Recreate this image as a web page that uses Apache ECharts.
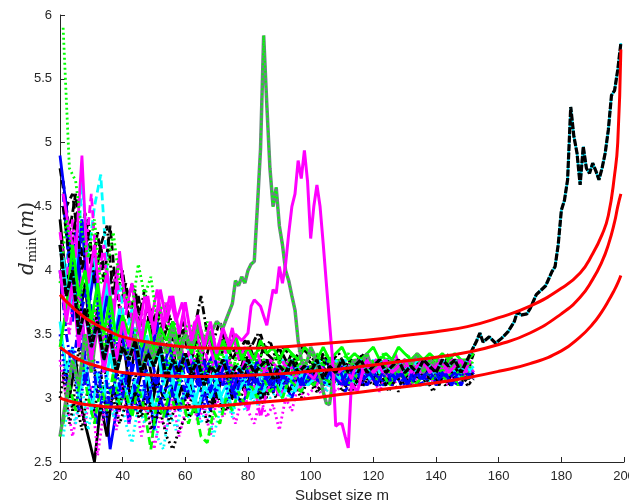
<!DOCTYPE html>
<html>
<head>
<meta charset="utf-8">
<script src="https://cdn.jsdelivr.net/npm/echarts@6/dist/echarts.min.js"></script>
<style>
  html, body { margin: 0; padding: 0; background: #fff; }
  #chart { width: 629px; height: 501px; }
</style>
</head>
<body>
<div id="chart"></div>
<script>
// subset sizes (even / odd steps) for the bundle of trajectories
const evenM = [];
for (let m = 20; m <= 152; m += 2) evenM.push(m);
const oddM = [];
for (let m = 21; m <= 151; m += 2) oddM.push(m);

// bundle trajectories, values
const blackDashed = [4.8,4.5,4.6,4.2,4.45,4.0,4.3,3.9,4.35,3.8, 4.0,3.6,3.85,3.5,3.75,3.45,3.7,3.4,3.6,3.35, 3.55,3.3,3.5,3.25,3.45,3.3,3.5,3.3,3.4,3.25, 3.45,3.3,3.5,3.35,3.3,3.4,3.25,3.35,3.3,3.4, 3.3,3.2,3.35,3.25,3.3,3.2,3.3,3.25,3.35,3.2, 3.3,3.2,3.25,3.3,3.15,3.3,3.2,3.3,3.25,3.2, 3.3,3.2,3.35,3.25,3.3,3.2,3.35];
const greenDotted = [5.9,4.8,4.7,4.3,4.1,4.4,3.9,4.0,4.3,3.9, 3.8,3.7,4.05,3.8,3.95,3.6,3.75,3.5,3.6,3.4, 3.6,3.5,3.3,3.6,3.4,3.3,3.5,3.2,3.4,3.3, 3.2,3.4,3.3,3.2,3.35,3.2,3.3,3.15,3.3,3.2, 3.3,3.2,3.35,3.25,3.3,3.2,3.3,3.25,3.2,3.3, 3.25,3.35,3.2,3.3,3.25,3.35,3.2,3.3,3.25,3.3, 3.2,3.3,3.25,3.2,3.3,3.25];
const magentaSolid = [4.6,4.3,4.1,4.9,3.9,4.2,3.7,4.0,3.6,4.15, 3.7,3.9,3.5,3.8,3.6,3.85,3.55,3.8,3.6,3.75, 3.4,3.6,3.35,3.5,3.3,3.45,3.35,3.55,3.3,3.4, 3.3,3.35,3.2,3.3,3.25,3.2,3.3,3.15,3.25,3.2, 3.15,3.25,3.2,3.3,3.2,3.25,3.15,3.3,3.2,3.25, 3.3,3.2,3.25,3.35,3.2,3.3,3.25,3.2,3.3,3.25, 3.3,3.2,3.3,3.25,3.2,3.3];
const cyanDashed = [3.9,4.2,3.8,4.7,4.1,4.5,4.75,4.0,3.7,3.9, 3.5,3.7,3.4,3.6,3.3,3.5,3.2,3.45,3.3,3.2, 3.4,3.2,3.35,3.1,3.3,3.2,3.35,3.1,3.25,3.15, 3.3,3.2,3.1,3.25,3.15,3.3,3.2,3.15,3.25,3.2, 3.2,3.3,3.15,3.25,3.2,3.3,3.2,3.25,3.15,3.2, 3.25,3.2,3.3,3.15,3.25,3.2,3.3,3.2,3.25,3.15, 3.25,3.2,3.3,3.2,3.15,3.25];
const blueSolid = [4.9,4.5,3.6,4.1,3.3,3.0,2.8,3.1,2.6,2.9, 3.2,2.8,3.1,2.9,3.2,2.75,3.0,2.85,3.15,2.9, 3.0,3.1,2.85,3.05,2.9,3.1,2.95,3.0,3.05,2.95, 3.05,3.15,3.0,3.1,3.05,3.2,3.1,3.0,3.15,3.1, 3.15,3.2,3.1,3.2,3.15,3.25,3.1,3.2,3.15,3.25, 3.2,3.15,3.1,3.25,3.2,3.15,3.25,3.2,3.15,3.25, 3.2,3.15,3.25,3.2,3.2,3.25,3.2];
const blackSolid = [3.4,3.0,3.3,2.9,2.7,2.5,2.95,2.7,3.1,2.9, 3.2,2.95,3.1,3.3,2.9,3.15,3.0,3.2,2.95,3.1, 3.0,3.2,3.05,3.15,2.95,3.1,3.2,3.0,3.15,3.05, 3.2,3.1,3.0,3.15,3.1,3.25,3.05,3.15,3.1,3.2, 3.1,3.2,3.15,3.1,3.2,3.15,3.25,3.1,3.2,3.15, 3.2,3.1,3.25,3.15,3.2,3.1,3.2,3.25,3.15,3.2, 3.1,3.25,3.2,3.15,3.2,3.15];
const magentaDotted = [3.3,3.0,2.7,2.95,2.8,3.1,2.55,2.9,3.0,2.75, 3.1,2.8,3.0,2.7,2.95,2.6,2.85,2.75,3.0,2.7, 2.9,3.05,2.8,2.95,2.7,3.0,2.85,2.95,2.8,3.0, 2.9,2.8,3.0,2.85,2.95,2.75,3.0,2.9,3.1,3.0, 3.05,3.1,3.0,3.15,3.05,3.1,3.15,3.05,3.2,3.1, 3.15,3.05,3.2,3.1,3.15,3.2,3.1,3.15,3.2,3.1, 3.2,3.15,3.1,3.2,3.15,3.2,3.15];
const cyanDotted = [2.7,3.0,2.8,3.1,2.75,3.0,2.9,3.2,2.85,3.05, 2.8,2.65,2.95,2.8,3.0,2.7,2.6,2.9,2.75,2.95, 2.85,3.0,2.8,2.95,2.7,2.9,3.0,2.85,3.05,2.9, 3.0,2.95,3.1,3.0,3.05,3.15,3.0,3.1,3.05,3.15, 3.1,3.2,3.05,3.15,3.1,3.2,3.15,3.1,3.2,3.15, 3.2,3.1,3.25,3.15,3.2,3.15,3.25,3.2,3.1,3.2, 3.15,3.25,3.2,3.15,3.2,3.25];
const greenSolid = [3.4,3.7,4.2,3.8,4.0,3.6,3.9,3.5,3.8,3.45, 3.65,3.5,3.7,3.4,3.6,3.35,3.55,3.45,3.6,3.4, 3.5,3.35,3.55,3.4,3.5,3.3,3.45,3.35,3.5,3.3, 3.4,3.3,3.45,3.35,3.4,3.3,3.4,3.35,3.3,3.4, 3.35,3.3,3.4,3.3,3.35,3.4,3.3,3.35,3.3,3.35, 3.4,3.3,3.35,3.3,3.4,3.35,3.3,3.35,3.3,3.35, 3.3,3.35,3.3,3.35,3.3,3.3,3.35];
const blueDashed = [4.6,4.0,4.3,3.7,3.9,3.5,3.8,3.4,3.6,3.3, 3.5,3.2,3.45,3.15,3.35,3.1,3.3,3.2,3.1,3.25, 3.05,3.2,3.1,3.25,3.0,3.15,3.1,3.2,3.05,3.15, 3.2,3.1,3.25,3.15,3.2,3.05,3.2,3.1,3.15,3.2, 3.1,3.2,3.15,3.1,3.2,3.05,3.15,3.2,3.1,3.15, 3.2,3.1,3.15,3.2,3.1,3.2,3.15,3.1,3.2,3.15, 3.2,3.15,3.1,3.2,3.15,3.2];
const blackDotted = [3.0,3.3,2.9,3.4,3.1,3.5,3.0,3.3,2.9,3.2, 3.1,2.9,3.2,2.85,3.0,2.8,2.9,2.7,2.6,2.75, 2.85,3.0,2.9,3.1,2.95,3.05,2.9,3.1,3.0,3.15, 3.05,3.2,3.1,3.0,3.15,3.05,3.2,3.1,3.05,3.15, 3.1,3.05,3.15,3.1,3.2,3.05,3.15,3.1,3.2,3.15, 3.1,3.2,3.1,3.15,3.05,3.2,3.1,3.15,3.2,3.1, 3.15,3.2,3.1,3.15,3.2,3.1,3.15];
const magentaDashDot = [3.8,3.5,4.0,3.6,3.3,3.7,3.4,3.6,3.3,3.5, 3.3,3.45,3.2,3.4,3.25,3.5,3.3,3.2,3.4,3.25, 3.35,3.2,3.3,3.15,3.35,3.2,3.3,3.25,3.15,3.3, 3.2,3.3,3.15,3.25,3.2,3.3,3.15,3.25,3.2,3.15, 3.25,3.2,3.3,3.15,3.25,3.2,3.3,3.25,3.2,3.25, 3.3,3.2,3.25,3.3,3.2,3.25,3.3,3.2,3.25,3.2, 3.3,3.25,3.2,3.3,3.25,3.2];
const cyanSolid = [3.6,3.2,3.4,3.0,3.3,2.9,3.2,3.0,3.35,3.05, 3.2,2.95,3.15,3.0,3.2,2.9,3.1,3.0,3.15,2.95, 3.05,3.15,2.9,3.1,3.0,3.15,2.95,3.1,3.05,3.15, 3.1,3.0,3.2,3.1,3.15,3.05,3.2,3.15,3.25,3.15, 3.2,3.25,3.15,3.2,3.3,3.2,3.25,3.15,3.25,3.2, 3.3,3.2,3.25,3.3,3.2,3.25,3.2,3.3,3.25,3.2, 3.25,3.3,3.2,3.25,3.3,3.2,3.25];
const greenDashed = [2.8,3.1,2.9,3.3,3.0,2.8,3.1,2.9,3.2,2.95, 3.05,2.85,3.1,2.9,2.6,3.0,2.85,3.05,2.9,3.0, 2.8,2.95,2.7,2.65,2.9,2.8,3.0,2.9,3.05,2.95, 3.1,3.0,3.15,3.05,3.1,3.0,3.15,3.1,3.05,3.15, 3.1,3.2,3.15,3.1,3.2,3.15,3.1,3.2,3.15,3.2, 3.15,3.2,3.1,3.2,3.15,3.2,3.1,3.15,3.2,3.15, 3.2,3.15,3.2,3.1,3.2,3.15];
const blueDotted = [3.5,3.1,3.4,2.9,3.2,3.0,3.3,2.85,3.1,3.0, 3.2,3.05,2.9,3.1,3.0,3.2,2.95,3.1,3.05,2.9, 3.1,3.0,3.15,2.95,3.1,3.05,3.2,3.0,3.1,3.15, 3.05,3.15,3.1,3.2,3.05,3.15,3.1,3.2,3.15,3.1, 3.2,3.15,3.1,3.2,3.15,3.25,3.1,3.2,3.15,3.2, 3.15,3.1,3.2,3.15,3.2,3.1,3.15,3.2,3.1,3.2, 3.15,3.2,3.15,3.1,3.2,3.15,3.2];
const blackDashDot = [4.5,4.1,4.4,4.0,4.3,3.9,4.2,4.35,3.8,4.1, 3.7,3.9,3.6,3.85,3.5,3.7,3.45,3.65,3.4,3.6, 3.45,3.55,3.8,3.5,3.45,3.6,3.4,3.5,3.35,3.45, 3.4,3.5,3.35,3.45,3.3,3.4,3.35,3.3,3.4,3.35, 3.3,3.35,3.25,3.3,3.35,3.25,3.3,3.2,3.3,3.25, 3.3,3.2,3.3,3.25,3.3,3.2,3.3,3.25,3.2,3.3, 3.25,3.3,3.2,3.25,3.3,3.25];
const blackDashed2 = [4.7,4.3,4.6,4.1,4.4,3.9,4.2,3.8,4.0,3.7, 3.9,3.6,3.8,3.5,3.7,3.45,3.6,3.5,3.4,3.55, 3.35,3.5,3.3,3.45,3.35,3.3,3.45,3.3,3.4,3.3, 3.35,3.25,3.4,3.3,3.2,3.35,3.25,3.3,3.2,3.3, 3.25,3.3,3.2,3.3,3.25,3.2,3.3,3.25,3.35,3.2, 3.3,3.25,3.2,3.3,3.25,3.3,3.2,3.25,3.3,3.2, 3.3,3.25,3.2,3.3,3.25,3.3];
const blackSolid2 = [4.4,3.9,4.1,3.6,3.9,3.4,3.7,3.3,3.6,3.2, 3.5,3.1,3.4,3.2,3.35,3.05,3.3,3.15,3.4,3.1, 3.3,3.15,3.35,3.1,3.25,3.05,3.3,3.15,3.2,3.1, 3.25,3.15,3.3,3.2,3.1,3.25,3.15,3.3,3.2,3.15, 3.25,3.15,3.2,3.1,3.25,3.2,3.15,3.25,3.1,3.2, 3.15,3.25,3.2,3.1,3.2,3.25,3.15,3.2,3.25,3.15, 3.2,3.25,3.15,3.2,3.25,3.15,3.2];
const blueSolid2 = [4.5,4.2,3.8,4.4,3.7,4.0,3.5,3.8,3.4,3.65, 3.3,3.55,3.2,3.45,3.3,3.6,3.25,3.4,3.15,3.35, 3.2,3.3,3.1,3.25,3.35,3.15,3.3,3.05,3.2,3.25, 3.15,3.3,3.2,3.1,3.25,3.15,3.3,3.2,3.1,3.25, 3.15,3.2,3.3,3.15,3.25,3.1,3.2,3.25,3.15,3.2, 3.1,3.2,3.25,3.15,3.2,3.1,3.25,3.15,3.2,3.25, 3.15,3.2,3.1,3.2,3.25,3.15];
const magentaDashed = [4.3,3.9,4.4,3.8,4.1,4.6,3.9,4.2,3.6,4.0, 3.5,3.8,3.4,3.7,3.3,3.6,3.4,3.75,3.3,3.5, 3.25,3.45,3.15,3.4,3.2,3.35,3.1,3.3,3.0,3.2, 2.9,3.1,2.85,3.05,3.15,3.0,3.1,3.2,3.05,3.15, 3.2,3.1,3.25,3.15,3.2,3.1,3.25,3.2,3.15,3.25, 3.2,3.3,3.15,3.25,3.2,3.3,3.15,3.25,3.2,3.3, 3.2,3.25,3.3,3.2,3.25,3.3,3.2];
const cyanSolid2 = [4.1,3.7,4.0,4.4,3.8,4.1,3.6,3.9,3.45,3.7, 3.3,3.6,3.2,3.5,3.25,3.4,3.1,3.3,3.0,3.2, 3.1,2.95,3.15,3.05,3.2,3.0,3.1,2.9,3.05,3.15, 3.0,3.1,3.05,3.2,3.1,3.0,3.15,3.05,3.2,3.1, 3.15,3.2,3.1,3.25,3.15,3.2,3.1,3.25,3.2,3.15, 3.25,3.2,3.3,3.15,3.25,3.2,3.3,3.2,3.25,3.2, 3.3,3.2,3.25,3.15,3.25,3.2];
const greenDotted2 = [3.9,4.4,4.1,3.7,4.0,3.5,3.8,3.4,3.7,3.3, 3.6,3.3,3.55,3.2,3.45,3.3,3.5,3.2,3.4,3.1, 3.35,3.2,3.4,3.15,3.3,3.2,3.35,3.1,3.3,3.2, 3.25,3.35,3.2,3.3,3.15,3.3,3.2,3.35,3.25,3.3, 3.2,3.35,3.25,3.3,3.2,3.3,3.35,3.25,3.3,3.2, 3.3,3.25,3.35,3.2,3.3,3.25,3.3,3.2,3.3,3.25, 3.3,3.2,3.3,3.25,3.3,3.2,3.3];
const blackDotted2 = [3.2,2.8,3.0,2.75,3.1,2.9,3.2,2.85,3.0,2.8, 2.95,3.1,2.85,3.0,2.75,2.9,3.05,2.8,2.95,3.1, 2.85,2.9,3.0,2.8,2.95,3.05,2.9,3.0,2.95,3.1, 3.0,3.05,2.95,3.1,3.0,3.15,3.05,3.1,3.0,3.15, 3.1,3.05,3.15,3.1,3.2,3.1,3.05,3.15,3.1,3.2, 3.1,3.15,3.05,3.2,3.1,3.15,3.2,3.1,3.15,3.05, 3.15,3.1,3.2,3.1,3.15,3.1];
const blueDashDot = [4.0,3.5,3.2,3.6,3.1,3.4,3.0,3.3,2.9,3.2, 3.0,3.3,3.05,3.25,2.95,3.15,3.05,3.3,3.0,3.2, 3.05,3.25,3.1,3.3,3.05,3.2,3.1,3.25,3.0,3.2, 3.1,3.25,3.05,3.2,3.1,3.25,3.15,3.1,3.2,3.1, 3.2,3.15,3.1,3.2,3.15,3.1,3.25,3.15,3.2,3.1, 3.2,3.15,3.25,3.1,3.2,3.15,3.1,3.2,3.15,3.25, 3.1,3.2,3.15,3.2,3.1,3.2,3.15];

// trajectory with the tall peak near m = 85
const peakM = [20,22,24,26,28,30,32,34,36,38,40,42,44,46,48,50,52,54,56,58,60,62,64,66,68,70,72, 75,76,77,78,79,80,81,82,83,84,85,86,87,88,89,90,91,92,93,94,95,96,97,98,99,100,101,102,103,104,105,106,107,108, 110,112,114,116,118,120,122,124,126,128,130,132,134,136,138,140,142,144,146,148,150];
const peakD = [2.7,3.0,3.3,3.1,3.5,3.2,3.6,3.3,3.5,3.2,3.4,3.3,3.5,3.2,3.45,3.3,3.5,3.35,3.55,3.3,3.5,3.4,3.6,3.45,3.5,3.6,3.55, 3.74,3.92,3.88,3.95,3.9,4.0,4.05,4.07,4.5,4.95,5.84,5.3,4.8,4.5,4.65,4.35,4.2,4.0,3.92,3.8,3.69,3.45,3.3,3.25,3.3,3.4,3.35,3.25,3.17,3.05,2.96,2.95,3.12,3.25, 3.3,3.2,3.3,3.25,3.35,3.2,3.3,3.25,3.3,3.2,3.3,3.25,3.35,3.2,3.3,3.25,3.3,3.2,3.3,3.25,3.3];

// magenta trajectory with the second peak near m = 98
const humpM = [20,22,24,26,28,30,32,34,36,38,40,42,44,46,48,50,52,54,56,58,60,62,64,66,68,70,72,74,76,78, 80,81,82,84,86,88,89,90,91,92,93,94,95,96,97,98,99,100,101,102,103,104,105,106,107,108,109,110,111,112,113,114,115,116,117, 118,120,122,124,126,128,130,132,134,136,138,140,142,144,146,148,150];
const humpD = [4.0,3.6,3.9,3.4,3.7,3.3,3.6,3.2,3.5,3.3,3.6,3.4,3.7,3.45,3.8,3.5,3.85,3.6,3.8,3.5,3.75,3.45,3.65,3.4,3.6,3.35,3.55,3.4,3.5,3.45, 3.51,3.72,3.77,3.72,3.57,3.85,3.82,4.03,3.9,4.05,4.29,4.5,4.6,4.86,4.72,4.94,4.7,4.25,4.5,4.67,4.5,4.21,3.9,3.6,3.3,2.78,2.8,2.8,2.7,2.61,3.12,3.08,3.06,3.15,3.25, 3.3,3.2,3.25,3.3,3.2,3.25,3.3,3.2,3.25,3.3,3.2,3.25,3.3,3.2,3.25,3.3,3.2];

// last trajectory that runs up to m = 199
const lastM = [20,22,24,26,28,30,32,34,36,38,40,42,44,46,48,50,52,54,56,58,60,62,64,66,68,70,72,74,76,78,80,82,84,86,88,90,92,94,96,98,100,102,104,106,108,110,112,114,116,118,120,122,124,126,128,130,132,134,136,138,140,142,144,146,148,150, 152,153,154,155,157,159,161,163,165,166,167,169,170,172,175,177,178,179,180,181,182,183,184,185,186,187,188,189,190,191,192,193,194,195,196,197,198,199];
const lastD = [4.2,3.8,4.0,3.5,3.7,3.4,3.6,3.3,3.5,3.2, 3.4,3.3,3.45,3.2,3.35,3.25,3.4,3.15,3.3,3.2, 3.35,3.2,3.3,3.1,3.25,3.2,3.3,3.15,3.25,3.2, 3.3,3.2,3.25,3.3,3.15,3.25,3.2,3.3,3.2,3.25, 3.2,3.3,3.15,3.25,3.2,3.3,3.2,3.25,3.3,3.2, 3.25,3.3,3.2,3.25,3.3,3.2,3.25,3.2,3.3,3.25, 3.2,3.3,3.25,3.3,3.2,3.3, 3.4,3.45,3.51,3.44,3.48,3.43,3.47,3.52,3.6,3.68,3.65,3.66,3.7,3.81,3.88,3.99,4.03,4.2,4.47,4.55,4.71,5.28,5.05,4.92,4.67,4.97,4.8,4.76,4.84,4.78,4.71,4.8,4.92,5.1,5.37,5.41,5.57,5.78];

// envelope curves
const envM = [20,24,28,32,36,40,50,60,70,80,90,100,110,120,130,140,150,160,170,180,186,190,193,195,197,198,199];
const envUpper = [3.81,3.71,3.63,3.57,3.52,3.48,3.43,3.40,3.39,3.39,3.40,3.42,3.44,3.46,3.49,3.52,3.56,3.63,3.72,3.86,3.98,4.13,4.28,4.43,4.75,5.0,5.73];
const envMiddle = [3.40,3.33,3.28,3.25,3.22,3.20,3.18,3.17,3.17,3.18,3.19,3.21,3.23,3.26,3.29,3.32,3.36,3.42,3.51,3.66,3.79,3.93,4.07,4.2,4.38,4.5,4.6];
const envLower = [3.00,2.97,2.95,2.94,2.93,2.93,2.92,2.93,2.94,2.96,2.98,3.00,3.03,3.06,3.09,3.12,3.16,3.21,3.27,3.37,3.48,3.58,3.68,3.76,3.85,3.9,3.96];

const pairs = (xs, ys) => ys.map((y, i) => [xs[i], y]);

const dashes = { solid: 'solid', dashed: [8, 4], dotted: [2, 3], dashdot: [8, 3, 2, 3] };

function traj(xs, ys, color, style, width) {
  return {
    type: 'line',
    data: pairs(xs, ys),
    symbol: 'none',
    silent: true,
    lineStyle: { color: color, width: width || 2.8, type: Array.isArray(style) ? style : dashes[style] }
  };
}

const series = [
  traj(evenM, blackDashed, '#000000', 'dashed'),
  traj(oddM, blackDashed2, '#000000', 'dashed'),
  traj(oddM, cyanDashed, '#00ffff', 'dashed'),
  traj(evenM, blueSolid, '#0000ff', 'solid'),
  traj(oddM, blackSolid, '#000000', 'solid'),
  traj(evenM, blackSolid2, '#000000', 'solid'),
  traj(evenM, magentaDotted, '#ff00ff', 'dotted'),
  traj(oddM, cyanDotted, '#00ffff', 'dotted'),
  traj(oddM, blueDashed, '#0000ff', 'dashed'),
  traj(evenM, blackDotted, '#000000', 'dotted'),
  traj(oddM, blackDotted2, '#000000', 'dotted'),
  traj(oddM, magentaDashDot, '#ff00ff', 'dashdot'),
  traj(evenM, magentaDashed, '#ff00ff', 'dashed'),
  traj(evenM, cyanSolid, '#00ffff', 'solid'),
  traj(oddM, cyanSolid2, '#00ffff', 'solid'),
  traj(oddM, greenDashed, '#00ff00', 'dashed'),
  traj(evenM, blueDotted, '#0000ff', 'dotted'),
  traj(evenM, blueDashDot, '#0000ff', 'dashdot'),
  traj(oddM, blueSolid2, '#0000ff', 'solid'),
  traj(oddM, blackDashDot, '#000000', 'dashdot'),
  traj(oddM, magentaSolid, '#ff00ff', 'solid'),
  traj(evenM, greenSolid, '#00ff00', 'solid'),
  traj(evenM, greenDotted2, '#00ff00', 'dotted'),
  traj(oddM, greenDotted, '#00ff00', 'dotted'),
  traj(peakM, peakD, '#6b8580', 'solid', 3.5),
  traj(peakM, peakD, '#00ff00', [2, 3], 2.2),
  traj(humpM, humpD, '#ff00ff', 'solid', 3),
  traj(lastM, lastD, '#00d8f0', 'solid', 2.5),
  traj(lastM, lastD, '#000000', [7, 1.5], 3.2),
  traj(envM, envUpper, '#ff0000', 'solid', 3),
  traj(envM, envMiddle, '#ff0000', 'solid', 3),
  traj(envM, envLower, '#ff0000', 'solid', 3)
];
series.slice(-3).forEach(s => { s.smooth = true; });

const chart = echarts.init(document.getElementById('chart'), null, { renderer: 'canvas' });
chart.setOption({
  animation: false,
  backgroundColor: '#ffffff',
  grid: { left: 60, right: 5, top: 15, bottom: 39, containLabel: false, outerBoundsMode: 'none' },
  xAxis: {
    type: 'value',
    min: 20,
    max: 200,
    interval: 20,
    name: 'Subset size m',
    nameLocation: 'middle',
    nameGap: 26,
    nameMoveOverlap: false,
    nameTextStyle: { fontFamily: 'Liberation Sans', fontSize: 15, color: '#262626' },
    axisLine: { lineStyle: { color: '#262626', width: 1 } },
    axisTick: { inside: true, length: 5, lineStyle: { color: '#262626' } },
    axisLabel: { fontFamily: 'Liberation Sans', fontSize: 13, color: '#262626', margin: 8 },
    splitLine: { show: false }
  },
  yAxis: {
    type: 'value',
    min: 2.5,
    max: 6,
    interval: 0.5,
    name: '{d|d}{sub|min}{p|(}{d|m}{p|)}',
    nameLocation: 'middle',
    nameRotate: 90,
    nameGap: 21,
    nameMoveOverlap: false,
    nameTextStyle: {
      color: '#262626',
      rich: {
        d: { fontFamily: 'DejaVu Serif', fontStyle: 'italic', fontSize: 20, color: '#262626' },
        sub: { fontFamily: 'DejaVu Serif', fontSize: 13, color: '#262626', padding: [10, 1, 0, 0] },
        p: { fontFamily: 'DejaVu Serif', fontSize: 20, color: '#262626' }
      }
    },
    axisLine: { show: true, lineStyle: { color: '#262626', width: 1 } },
    axisTick: { show: true, inside: true, length: 5, lineStyle: { color: '#262626' } },
    axisLabel: { fontFamily: 'Liberation Sans', fontSize: 13, color: '#262626', margin: 8 },
    splitLine: { show: false }
  },
  series: series
});
</script>
</body>
</html>
